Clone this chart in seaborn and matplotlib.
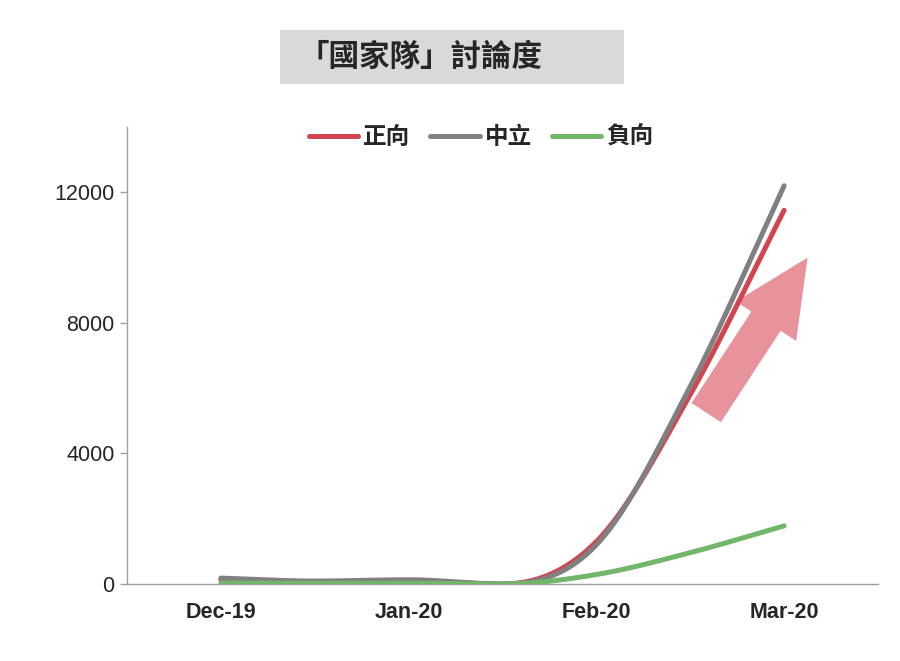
import numpy as np
import pandas as pd
import matplotlib
matplotlib.use("Agg")
import matplotlib.pyplot as plt
import matplotlib.patches as mpatches
from matplotlib.transforms import IdentityTransform
import seaborn as sns

# half-monthly readings, month labels on the axis
months = ["Dec-19", "Jan-20", "Feb-20", "Mar-20"]
periods = ["Dec-19", "Dec/Jan", "Jan-20", "Jan/Feb", "Feb-20", "Feb/Mar", "Mar-20"]
positive = [130, 70, 90, 0, 1300, 5800, 11450]
neutral = [180, 90, 130, 0, 1200, 6050, 12200]
negative = [30, 20, 25, 0, 290, 960, 1780]

series_names = ["正向", "中立", "負向"]
series_values = [positive, neutral, negative]
colors = ["#d2454f", "#808080", "#72b66a"]
arrow_color = "#e8939b"


def smooth(xs, ys, n=40):
  # cardinal spline, flat at local peaks and dips so it never undershoots
  xs = np.asarray(xs, float)
  ys = np.asarray(ys, float)
  h = np.diff(xs)
  d = np.diff(ys) / h
  m = np.zeros_like(ys)
  m[0] = d[0]
  m[-1] = d[-1]
  for i in range(1, len(ys) - 1):
    if d[i - 1] * d[i] > 0:
      m[i] = (ys[i + 1] - ys[i - 1]) / (xs[i + 1] - xs[i - 1])
  out_x = []
  out_y = []
  for i in range(len(h)):
    t = np.linspace(0, 1, n, endpoint=(i == len(h) - 1))
    h00 = 2 * t**3 - 3 * t**2 + 1
    h10 = t**3 - 2 * t**2 + t
    h01 = -2 * t**3 + 3 * t**2
    h11 = t**3 - t**2
    out_x.append(xs[i] + t * h[i])
    out_y.append(h00 * ys[i] + h10 * h[i] * m[i] + h01 * ys[i + 1] + h11 * h[i] * m[i + 1])
  return np.concatenate(out_x), np.concatenate(out_y)


pos_index = [i * 0.5 for i in range(len(periods))]
frames = []
for name, vals in zip(series_names, series_values):
  sx, sy = smooth(pos_index, vals)
  frames.append(pd.DataFrame({"x": sx, "y": sy, "series": name}))
df = pd.concat(frames, ignore_index=True)

sns.set_theme(style="white")
plt.rcParams["font.family"] = ["Liberation Sans", "Noto Sans CJK TC", "DejaVu Sans"]
cjk = ["Noto Sans CJK TC", "DejaVu Sans"]

fig = plt.figure(figsize=(9, 6.61), dpi=100)
ax = fig.add_axes([127 / 900, 1 - 584 / 661, 751 / 900, 457 / 661])

sns.lineplot(data=df, x="x", y="y", hue="series", hue_order=series_names,
             palette=colors, sort=False, estimator=None, linewidth=3.6,
             solid_capstyle="round", ax=ax, zorder=3)

ax.set_xlim(-0.5, 3.5)
ax.set_ylim(0, 14000)
ax.set_yticks([0, 4000, 8000, 12000])
ax.set_xticks(range(len(months)))
ax.set_xticklabels(months, fontsize=15.5, fontweight="bold")
ax.set_xticks([-0.5, 0.5, 1.5, 2.5, 3.5], minor=True)
ax.tick_params(axis="x", which="major", length=0, pad=13)
ax.tick_params(axis="x", which="minor", length=5, width=1, color="#a0a0a0", direction="out")
ax.tick_params(axis="y", length=5, width=1, color="#a0a0a0", direction="out", pad=4,
               labelsize=15.5, left=True)
ax.set_xlabel("")
ax.set_ylabel("")
for side in ["top", "right"]:
  ax.spines[side].set_visible(False)
for side in ["left", "bottom"]:
  ax.spines[side].set_color("#a0a0a0")
  ax.spines[side].set_linewidth(1)
ax.grid(False)

# big pink trend arrow, drawn in pixel space so it keeps its shape
tail = ax.transData.transform((2.585, 5250))
tip = ax.transData.transform((3.125, 10000))
arrow = mpatches.FancyArrow(tail[0], tail[1], tip[0] - tail[0], tip[1] - tail[1],
                            width=35, head_width=72, head_length=76,
                            length_includes_head=True, transform=IdentityTransform(),
                            facecolor=arrow_color, edgecolor="none", zorder=2)
ax.add_artist(arrow)

handles, labels = ax.get_legend_handles_labels()
ax.legend(handles, labels, loc="center", bbox_to_anchor=(481 / 900, 1 - 137 / 661),
          bbox_transform=fig.transFigure, ncol=3, frameon=False,
          prop={"family": cjk, "weight": "bold", "size": 17},
          handlelength=2.1, handletextpad=0.2, columnspacing=0.85)

# title box
fig.patches.append(mpatches.Rectangle((280 / 900, 1 - 84 / 661), 344 / 900, 54 / 661,
                                      transform=fig.transFigure, facecolor="#d9d9d9",
                                      edgecolor="none", zorder=0))
fig.text(421 / 900, 1 - 57 / 661, "「國家隊」討論度", ha="center", va="center",
         fontsize=22, fontweight="bold", family=cjk)

fig.savefig("out.png", dpi=100)
plt.close()
